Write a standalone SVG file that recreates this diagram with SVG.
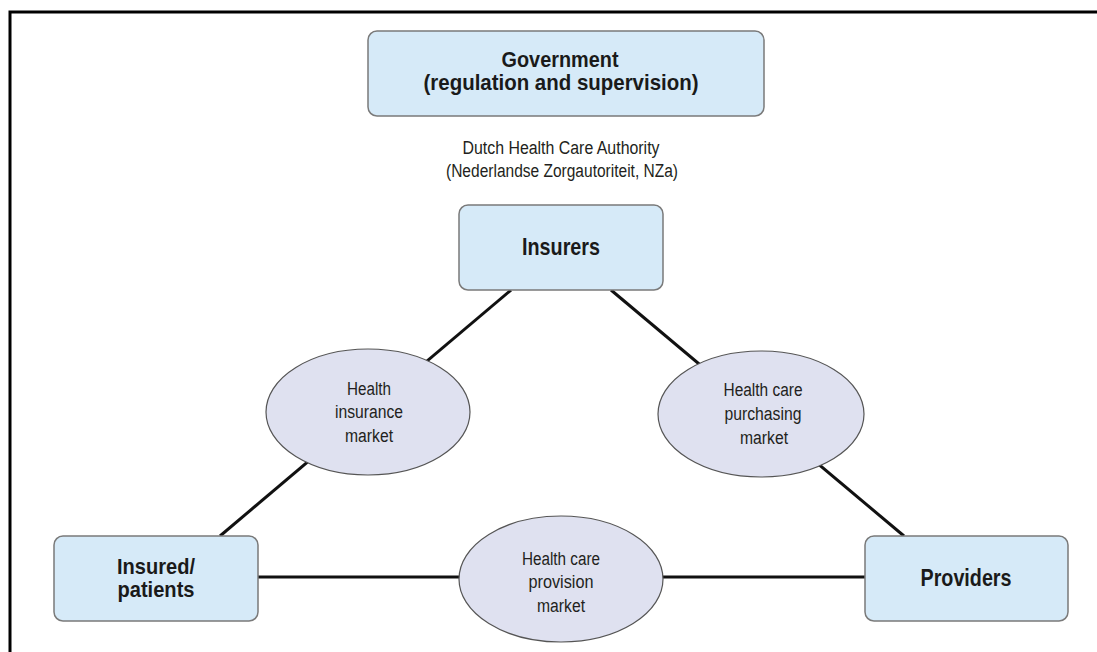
<svg xmlns="http://www.w3.org/2000/svg" width="1097" height="652" viewBox="0 0 1097 652">
  <style>
    .box { fill: #d6eaf8; stroke: #7a7a7a; stroke-width: 1.5; }
    .oval { fill: #dfe1f0; stroke: #555555; stroke-width: 1.2; }
    .link { stroke: #111111; stroke-width: 3; fill: none; }
    .bold { font-family: "Liberation Sans", Arial, sans-serif; font-weight: bold; font-size: 24px; fill: #1a1a1a; text-anchor: middle; }
    .bold2 { font-size: 22px; }
    .small { font-family: "Liberation Sans", Arial, sans-serif; font-size: 18px; fill: #231f20; text-anchor: middle; }
  </style>
  <rect x="0" y="0" width="1097" height="652" fill="#ffffff"/>
  <!-- outer frame -->
  <path d="M10 652 V12 H1097" fill="none" stroke="#000000" stroke-width="3"/>

  <g id="connectors">
    <line class="link" x1="511" y1="290" x2="220" y2="536"/>
    <line class="link" x1="611" y1="290" x2="904" y2="536"/>
    <line class="link" x1="258" y1="577" x2="865" y2="577"/>
  </g>

  <g id="government">
    <rect class="box" x="368" y="31" width="396" height="85" rx="9"/>
    <text class="bold bold2" x="560" y="67" textLength="117" lengthAdjust="spacingAndGlyphs">Government</text>
    <text class="bold bold2" x="561" y="90" textLength="275" lengthAdjust="spacingAndGlyphs">(regulation and supervision)</text>
  </g>

  <g id="authority">
    <text class="small" x="561" y="154" textLength="197" lengthAdjust="spacingAndGlyphs">Dutch Health Care Authority</text>
    <text class="small" x="562" y="177" textLength="232" lengthAdjust="spacingAndGlyphs">(Nederlandse Zorgautoriteit, NZa)</text>
  </g>

  <g id="insurers">
    <rect class="box" x="459" y="205" width="204" height="85" rx="9"/>
    <text class="bold" x="561" y="255" textLength="78" lengthAdjust="spacingAndGlyphs">Insurers</text>
  </g>

  <g id="insurance-market">
    <ellipse class="oval" cx="368" cy="412" rx="102" ry="63"/>
    <text class="small" x="369" y="395" textLength="44" lengthAdjust="spacingAndGlyphs">Health</text>
    <text class="small" x="369" y="418" textLength="68" lengthAdjust="spacingAndGlyphs">insurance</text>
    <text class="small" x="369" y="442" textLength="48" lengthAdjust="spacingAndGlyphs">market</text>
  </g>

  <g id="purchasing-market">
    <ellipse class="oval" cx="761" cy="414" rx="103" ry="63"/>
    <text class="small" x="763" y="396" textLength="79" lengthAdjust="spacingAndGlyphs">Health care</text>
    <text class="small" x="763" y="420" textLength="77" lengthAdjust="spacingAndGlyphs">purchasing</text>
    <text class="small" x="764" y="444" textLength="48" lengthAdjust="spacingAndGlyphs">market</text>
  </g>

  <g id="insured-patients">
    <rect class="box" x="54" y="536" width="204" height="85" rx="9"/>
    <text class="bold bold2" x="156" y="574" textLength="78" lengthAdjust="spacingAndGlyphs">Insured/</text>
    <text class="bold bold2" x="156" y="597" textLength="77" lengthAdjust="spacingAndGlyphs">patients</text>
  </g>

  <g id="provision-market">
    <ellipse class="oval" cx="561" cy="579" rx="102" ry="63"/>
    <text class="small" x="561" y="565" textLength="78" lengthAdjust="spacingAndGlyphs">Health care</text>
    <text class="small" x="561" y="588" textLength="65" lengthAdjust="spacingAndGlyphs">provision</text>
    <text class="small" x="561" y="612" textLength="48" lengthAdjust="spacingAndGlyphs">market</text>
  </g>

  <g id="providers">
    <rect class="box" x="865" y="536" width="203" height="85" rx="9"/>
    <text class="bold" x="966" y="586" textLength="91" lengthAdjust="spacingAndGlyphs">Providers</text>
  </g>
</svg>
